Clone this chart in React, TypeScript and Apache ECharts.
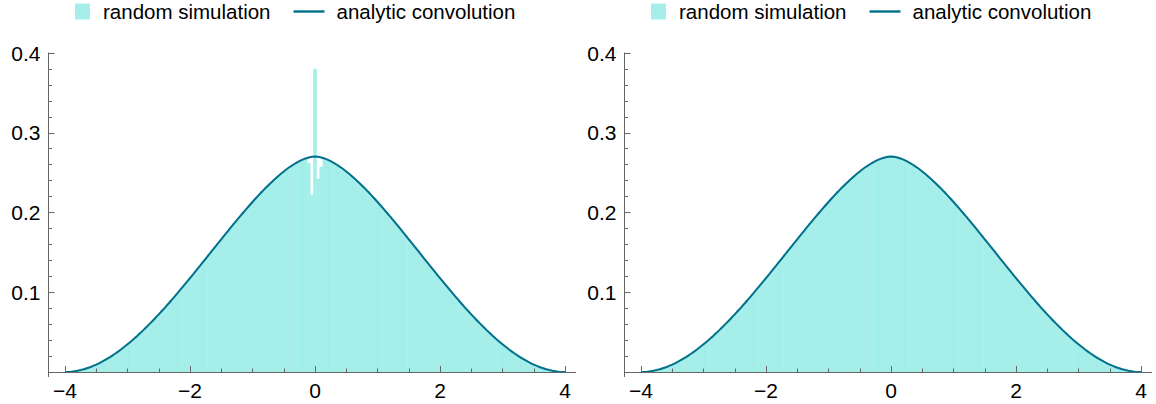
import React, { useEffect, useRef } from "react";
import * as echarts from "echarts";

// ---------- data ----------
const X_START = -4;
const X_STEP = 0.05; // bin width / sample spacing

// analytic convolution density, sampled at x = -4, -3.95, ..., 4
const curveY = [
  0.0000, 0.0001, 0.0004, 0.0009, 0.0016, 0.0024, 0.0034, 0.0047, 0.0060, 0.0076,
  0.0093, 0.0112, 0.0132, 0.0154, 0.0178, 0.0203, 0.0229, 0.0256, 0.0285, 0.0316,
  0.0347, 0.0380, 0.0414, 0.0449, 0.0485, 0.0522, 0.0561, 0.0600, 0.0640, 0.0681,
  0.0723, 0.0765, 0.0808, 0.0853, 0.0897, 0.0943, 0.0988, 0.1035, 0.1082, 0.1129,
  0.1177, 0.1225, 0.1273, 0.1322, 0.1371, 0.1420, 0.1469, 0.1518, 0.1567, 0.1615,
  0.1664, 0.1713, 0.1761, 0.1809, 0.1857, 0.1904, 0.1951, 0.1997, 0.2043, 0.2088,
  0.2132, 0.2176, 0.2218, 0.2260, 0.2300, 0.2339, 0.2377, 0.2414, 0.2449, 0.2483,
  0.2515, 0.2545, 0.2573, 0.2599, 0.2623, 0.2644, 0.2663, 0.2678, 0.2690, 0.2698,
  0.2702,
  0.2698, 0.2690, 0.2678, 0.2663, 0.2644, 0.2623, 0.2599, 0.2573, 0.2545, 0.2515,
  0.2483, 0.2449, 0.2414, 0.2377, 0.2339, 0.2300, 0.2260, 0.2218, 0.2176, 0.2132,
  0.2088, 0.2043, 0.1997, 0.1951, 0.1904, 0.1857, 0.1809, 0.1761, 0.1713, 0.1664,
  0.1615, 0.1567, 0.1518, 0.1469, 0.1420, 0.1371, 0.1322, 0.1273, 0.1225, 0.1177,
  0.1129, 0.1082, 0.1035, 0.0988, 0.0943, 0.0897, 0.0853, 0.0808, 0.0765, 0.0723,
  0.0681, 0.0640, 0.0600, 0.0561, 0.0522, 0.0485, 0.0449, 0.0414, 0.0380, 0.0347,
  0.0316, 0.0285, 0.0256, 0.0229, 0.0203, 0.0178, 0.0154, 0.0132, 0.0112, 0.0093,
  0.0076, 0.0060, 0.0047, 0.0034, 0.0024, 0.0016, 0.0009, 0.0004, 0.0001, 0.0000,
];

// histogram of the random simulation, left panel (bins centred at -4 ... 4)
const simLeft = [
  0.000, 0.000, 0.000, 0.001, 0.002, 0.002, 0.003, 0.005, 0.006, 0.008,
  0.009, 0.011, 0.013, 0.016, 0.018, 0.020, 0.023, 0.026, 0.028, 0.032,
  0.035, 0.038, 0.041, 0.045, 0.049, 0.052, 0.056, 0.060, 0.064, 0.068,
  0.072, 0.077, 0.081, 0.085, 0.090, 0.094, 0.099, 0.103, 0.108, 0.113,
  0.118, 0.122, 0.127, 0.132, 0.137, 0.142, 0.147, 0.152, 0.157, 0.161,
  0.166, 0.171, 0.176, 0.181, 0.186, 0.190, 0.195, 0.200, 0.204, 0.209,
  0.213, 0.218, 0.222, 0.226, 0.230, 0.234, 0.238, 0.241, 0.245, 0.248,
  0.251, 0.254, 0.257, 0.260, 0.262, 0.264, 0.266, 0.267, 0.262, 0.222,
  0.380,
  0.242, 0.257, 0.268, 0.266, 0.264, 0.262, 0.260, 0.257, 0.254, 0.251,
  0.248, 0.245, 0.241, 0.238, 0.234, 0.230, 0.226, 0.222, 0.218, 0.213,
  0.209, 0.204, 0.200, 0.195, 0.190, 0.186, 0.181, 0.176, 0.171, 0.166,
  0.161, 0.157, 0.152, 0.147, 0.142, 0.137, 0.132, 0.127, 0.122, 0.118,
  0.113, 0.108, 0.103, 0.099, 0.094, 0.090, 0.085, 0.081, 0.077, 0.072,
  0.068, 0.064, 0.060, 0.056, 0.052, 0.049, 0.045, 0.041, 0.038, 0.035,
  0.032, 0.028, 0.026, 0.023, 0.020, 0.018, 0.016, 0.013, 0.011, 0.009,
  0.008, 0.006, 0.005, 0.003, 0.002, 0.002, 0.001, 0.000, 0.000, 0.000,
];

// histogram of the random simulation, right panel
const simRight = [
  0.000, 0.000, 0.000, 0.001, 0.002, 0.002, 0.003, 0.005, 0.006, 0.008,
  0.009, 0.011, 0.013, 0.016, 0.018, 0.020, 0.023, 0.026, 0.028, 0.032,
  0.035, 0.038, 0.041, 0.045, 0.049, 0.052, 0.056, 0.060, 0.064, 0.068,
  0.072, 0.077, 0.081, 0.085, 0.090, 0.094, 0.099, 0.103, 0.108, 0.113,
  0.118, 0.122, 0.127, 0.132, 0.137, 0.142, 0.147, 0.152, 0.157, 0.161,
  0.166, 0.171, 0.176, 0.181, 0.186, 0.190, 0.195, 0.200, 0.204, 0.209,
  0.213, 0.218, 0.222, 0.226, 0.230, 0.234, 0.238, 0.241, 0.245, 0.248,
  0.251, 0.254, 0.257, 0.260, 0.262, 0.264, 0.266, 0.268, 0.269, 0.270,
  0.270,
  0.270, 0.269, 0.268, 0.266, 0.264, 0.262, 0.260, 0.257, 0.254, 0.251,
  0.248, 0.245, 0.241, 0.238, 0.234, 0.230, 0.226, 0.222, 0.218, 0.213,
  0.209, 0.204, 0.200, 0.195, 0.190, 0.186, 0.181, 0.176, 0.171, 0.166,
  0.161, 0.157, 0.152, 0.147, 0.142, 0.137, 0.132, 0.127, 0.122, 0.118,
  0.113, 0.108, 0.103, 0.099, 0.094, 0.090, 0.085, 0.081, 0.077, 0.072,
  0.068, 0.064, 0.060, 0.056, 0.052, 0.049, 0.045, 0.041, 0.038, 0.035,
  0.032, 0.028, 0.026, 0.023, 0.020, 0.018, 0.016, 0.013, 0.011, 0.009,
  0.008, 0.006, 0.005, 0.003, 0.002, 0.002, 0.001, 0.000, 0.000, 0.000,
];

const X_MIN = -4;
const X_MAX = 4;
const X_INTERVAL = 2;
const Y_MIN = 0;
const Y_MAX = 0.4;
const Y_INTERVAL = 0.1;
const SERIES_NAMES = ["random simulation", "analytic convolution"];

// ---------- style ----------
const FILL = "#a4efea";
const LINE = "#00708b";
const AXIS = "#666666";
const FONT = "'Liberation Sans', Arial, Helvetica, sans-serif";

export default function App() {
  const ref = useRef<HTMLDivElement>(null);

  useEffect(() => {
    const chart = echarts.init(ref.current!, null, { renderer: "svg" });
    const xs = curveY.map((_, i) => Math.round((X_START + i * X_STEP) * 100) / 100);

    const panels = [
      { left: 65, sim: simLeft },
      { left: 641, sim: simRight },
    ];

    const grid: any[] = [];
    const xAxis: any[] = [];
    const yAxis: any[] = [];
    const series: any[] = [];
    const legend: any[] = [];
    const graphic: any[] = [];

    panels.forEach((p, i) => {
      grid.push({ left: p.left, top: 53, width: 500, height: 319, containLabel: false });
      xAxis.push({
        type: "value",
        gridIndex: i,
        min: X_MIN,
        max: X_MAX,
        interval: X_INTERVAL,
        z: 10,
        axisLine: { show: true, onZero: false, lineStyle: { color: AXIS, width: 1 } },
        axisTick: { show: true, inside: true, length: 6, lineStyle: { color: AXIS } },
        minorTick: { show: true, splitNumber: 4, length: 3.5, lineStyle: { color: AXIS } },
        splitLine: { show: false },
        minorSplitLine: { show: false },
        axisLabel: {
          fontSize: 21,
          color: "#000",
          fontFamily: FONT,
          margin: 8,
          formatter: (v: number) => (v < 0 ? "\u2212" + Math.abs(v) : String(v)),
        },
      });
      yAxis.push({
        type: "value",
        gridIndex: i,
        min: Y_MIN,
        max: Y_MAX,
        interval: Y_INTERVAL,
        offset: 16.5,
        z: 10,
        axisLine: { show: true, onZero: false, lineStyle: { color: AXIS, width: 1 } },
        axisTick: { show: true, inside: true, length: 6, lineStyle: { color: AXIS } },
        minorTick: { show: true, splitNumber: 5, length: 3.5, lineStyle: { color: AXIS } },
        splitLine: { show: false },
        minorSplitLine: { show: false },
        axisLabel: {
          fontSize: 21,
          color: "#000",
          fontFamily: FONT,
          margin: 8,
          formatter: (v: number) => (v === 0 ? "" : v.toFixed(1)),
        },
      });

      series.push({
        name: SERIES_NAMES[0],
        type: "custom",
        xAxisIndex: i,
        yAxisIndex: i,
        itemStyle: { color: FILL },
        encode: { x: [0, 1], y: 2 },
        data: xs.map((x, k) => [x - X_STEP / 2, x + X_STEP / 2, p.sim[k]]),
        renderItem: (_params: any, api: any) => {
          const x0 = api.value(0);
          const x1 = api.value(1);
          const y = api.value(2);
          const a = api.coord([x0, y]);
          const b = api.coord([x1, 0]);
          return {
            type: "rect",
            shape: { x: a[0], y: a[1], width: b[0] - a[0], height: b[1] - a[1] },
            style: { fill: FILL, stroke: "#a0ebe6", lineWidth: 0.4 },
          };
        },
        z: 2,
        silent: true,
      });
      series.push({
        name: SERIES_NAMES[1],
        type: "line",
        xAxisIndex: i,
        yAxisIndex: i,
        showSymbol: false,
        symbol: "none",
        clip: false,
        itemStyle: { color: LINE },
        lineStyle: { color: LINE, width: 2 },
        data: xs.map((x, k) => [x, curveY[k]]),
        z: 3,
        silent: true,
      });

      const o = i * 576;
      legend.push({
        left: 75 + o,
        top: 1,
        padding: 0,
        itemWidth: 31,
        itemHeight: 16,
        itemGap: 23,
        selectedMode: false,
        textStyle: { fontSize: 20.5, color: "#000", fontFamily: FONT },
        data: [
          { name: SERIES_NAMES[0], icon: "path://M0,0h15v16h-15z", itemStyle: { color: FILL } },
          {
            name: SERIES_NAMES[1],
            icon: "path://M0,0h31v2.4h-31z",
            itemStyle: { color: LINE },
            textStyle: { padding: [0, 0, 0, 7] },
          },
        ],
      });

      const ax = 48.5 + o;
      graphic.push(
        { type: "line", silent: true, z: 20, shape: { x1: ax, y1: 372.5, x2: p.left, y2: 372.5 }, style: { stroke: AXIS, lineWidth: 1 } },
        { type: "line", silent: true, z: 20, shape: { x1: p.left + 500, y1: 372.5, x2: 576 + o, y2: 372.5 }, style: { stroke: AXIS, lineWidth: 1 } },
        { type: "line", silent: true, z: 20, shape: { x1: ax, y1: 372, x2: ax, y2: 377 }, style: { stroke: AXIS, lineWidth: 1 } }
      );
    });

    chart.setOption({
      animation: false,
      backgroundColor: "#ffffff",
      textStyle: { fontFamily: FONT },
      grid,
      xAxis,
      yAxis,
      legend,
      series,
      graphic,
    });

    return () => chart.dispose();
  }, []);

  return (
    <div
      ref={ref}
      style={{ position: "fixed", left: 0, top: 0, width: 1156, height: 404, background: "#fff" }}
    />
  );
}
